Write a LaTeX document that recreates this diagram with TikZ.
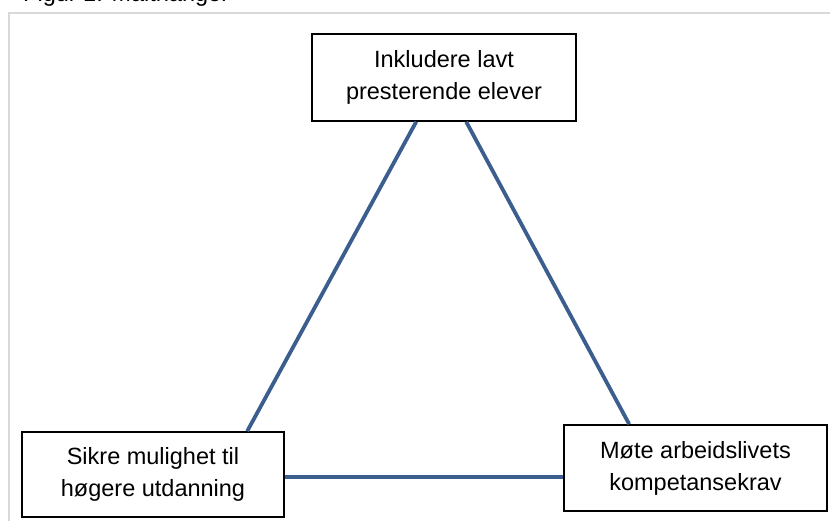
\documentclass[tikz,border=0pt]{standalone}
\usepackage{fontspec}
\setmainfont{Liberation Sans}
\usetikzlibrary{calc}
\definecolor{linkblue}{HTML}{3B5E8F}
\definecolor{framegray}{HTML}{D9D9D9}
\tikzset{
  goalbox/.style={draw=black, line width=1.6pt, fill=white, inner sep=0pt, align=center,
    font=\fontsize{23.5}{32}\selectfont},
  link/.style={draw=linkblue, line width=3.8pt},
  frameline/.style={draw=framegray, line width=2pt}
}
\begin{document}
\begin{tikzpicture}[x=1pt,y=1pt]
\useasboundingbox (0,0) rectangle (830,521);
\coordinate (fbl) at (8.5,0);
\coordinate (ftl) at (8.5,507.5);
\coordinate (ftr) at (831,507.5);
\draw[frameline] (fbl) -- (ftl) -- (ftr);
\node[anchor=base west, font=\fontsize{23.5}{28}\selectfont, inner sep=0pt] (title) at (23,519) {Figur 1: Måltriangel};
\node[goalbox, minimum width=264pt, minimum height=87pt] (top) at (444,443.5) {Inkludere lavt\\presterende elever};
\node[goalbox, minimum width=262pt, minimum height=85pt] (lft) at (153,46.5) {Sikre mulighet til\\høgere utdanning};
\node[goalbox, minimum width=263pt, minimum height=86pt] (rgt) at (695.5,53) {Møte arbeidslivets\\kompetansekrav};
\draw[link] ([xshift=105pt]top.south west) -- ([xshift=226pt]lft.north west);
\draw[link] ([xshift=155pt]top.south west) -- ([xshift=66pt]rgt.north west);
\draw[link] ([yshift=-2.5pt]lft.east) -- ([yshift=-2.5pt]lft.east -| rgt.west);
\end{tikzpicture}
\end{document}
